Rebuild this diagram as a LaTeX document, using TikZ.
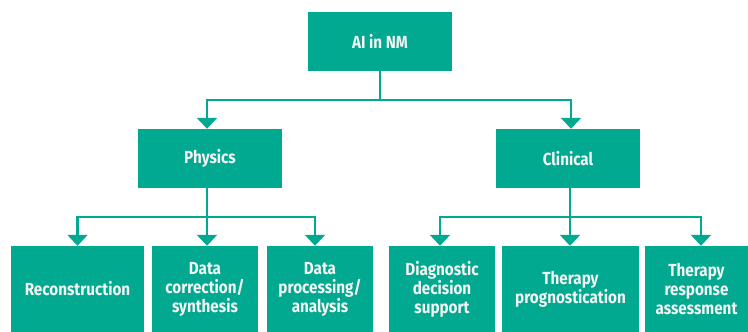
\documentclass[tikz,border=0pt]{standalone}
\usepackage{fontspec}
\setmainfont{Fira Sans}
\newfontfamily\boxfont{Fira Sans}[FakeStretch=0.87]
\usetikzlibrary{arrows.meta}
\definecolor{teal}{HTML}{00A98F}
\definecolor{boxtext}{HTML}{F4F4F4}
\begin{document}
\begin{tikzpicture}[x=1pt,y=-1pt,
  box/.style={fill=teal, draw=none, text=boxtext, font=\boxfont\bfseries\fontsize{17.5pt}{19pt}\selectfont,
    align=center, inner sep=0pt},
  topbox/.style={box, minimum width=144pt, minimum height=59pt},
  leafbox/.style={box, minimum height=86pt},
  link/.style={draw=teal, line width=2.6pt},
  arr/.style={link, -{Triangle[width=20pt,length=11pt]}}]
\useasboundingbox (0,0) rectangle (748,332);

% levels of the tree
\node[topbox] (ai) at (380,41.5) {AI in NM};
\node[topbox] (phys) at (210,158.5) {Physics};
\node[topbox] (clin) at (568,158.5) {Clinical};

\node[leafbox, minimum width=133pt] (rec) at (77.5,289) {Reconstruction};
\node[leafbox, minimum width=106pt] (dcs) at (205,289) {Data\\correction/\\synthesis};
\node[leafbox, minimum width=106pt] (dpa) at (320,289) {Data\\processing/\\analysis};
\node[leafbox, minimum width=106pt] (dds) at (442,289) {Diagnostic\\decision\\support};
\node[leafbox, minimum width=137pt] (tp) at (570.5,289) {Therapy\\prognostication};
\node[leafbox, minimum width=103pt] (tra) at (696.5,289) {Therapy\\response\\assessment};

% junction points of the connectors
\coordinate (j0) at (380,100);
\coordinate (j1) at (207,217);
\coordinate (j2) at (570,217);

% root to first level
\draw[link] (ai.south) -- (j0);
\draw[arr] (j0) -| ([xshift=-3pt]phys.north);
\draw[arr] (j0) -| ([xshift=3pt]clin.north);

% physics branch
\draw[link] ([xshift=-3pt]phys.south) -- (j1);
\draw[arr] (j1) -| (rec.north);
\draw[arr] (j1) -- ([xshift=2pt]dcs.north);
\draw[arr] (j1) -| ([xshift=-5pt]dpa.north);

% clinical branch
\draw[link] ([xshift=2pt]clin.south) -- (j2);
\draw[arr] (j2) -| ([xshift=-2pt]dds.north);
\draw[arr] (j2) -- ([xshift=-0.5pt]tp.north);
\draw[arr] (j2) -| ([xshift=4.5pt]tra.north);
\end{tikzpicture}
\end{document}
